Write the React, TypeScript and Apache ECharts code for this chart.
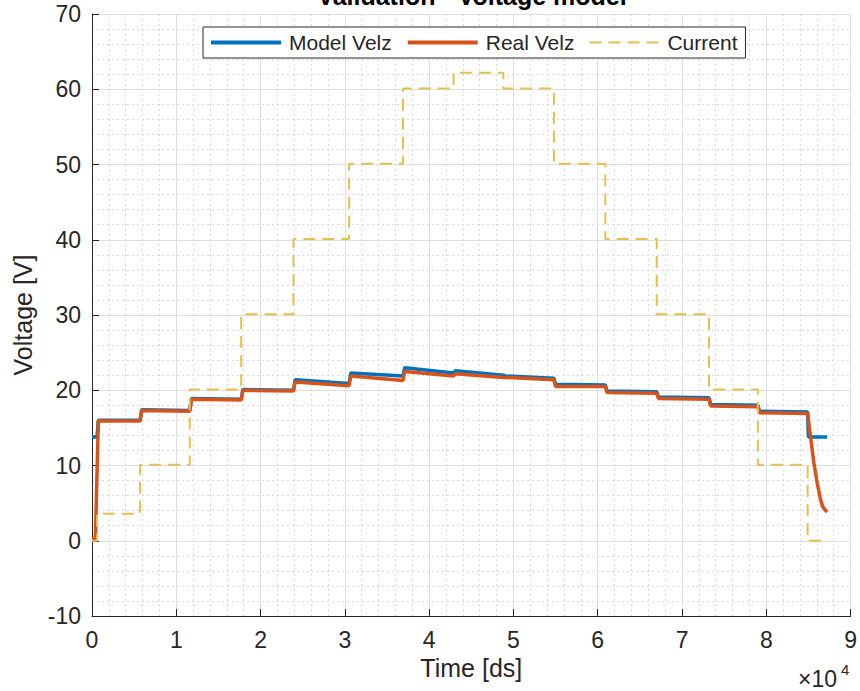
import React, { useEffect, useRef } from "react";
import * as echarts from "echarts";

// ---- Data (time in ds, values in V / A) ----
const modelTime = [0, 600, 750, 5700, 5900, 11600, 11800, 17700, 17900, 23900, 24100, 30500, 30700, 36900, 37100, 42900, 43100, 48800, 49000, 54800, 55000, 60900, 61100, 67000, 67200, 73200, 73400, 79000, 79200, 84900, 85000, 87200];
const modelVolt = [13.8, 13.8, 16.0, 16.0, 17.4, 17.3, 18.9, 18.8, 20.1, 20.0, 21.4, 20.9, 22.3, 21.9, 23.0, 22.3, 22.6, 22.0, 21.9, 21.6, 20.8, 20.7, 19.9, 19.8, 19.1, 19.0, 18.1, 18.0, 17.2, 17.1, 13.8, 13.8];

const realTime = [0, 400, 750, 5700, 5900, 11600, 11800, 17700, 17900, 23900, 24100, 30500, 30700, 36900, 37100, 42900, 43100, 48800, 49000, 54800, 55000, 60900, 61100, 67000, 67200, 73200, 73400, 79000, 79200, 84900, 85250, 85650, 86050, 86450, 86700, 87200];
const realVolt = [0.3, 0.3, 15.9, 15.9, 17.3, 17.2, 18.8, 18.7, 20.0, 19.9, 21.1, 20.6, 21.9, 21.3, 22.5, 21.9, 22.2, 21.7, 21.7, 21.4, 20.5, 20.5, 19.7, 19.6, 18.9, 18.8, 17.9, 17.8, 17.0, 16.9, 13.8, 10.3, 7.6, 5.4, 4.5, 3.8];

const currentTime = [0, 600, 5700, 11600, 17700, 23900, 30500, 36900, 42900, 48800, 54800, 60900, 67000, 73200, 79000, 84900, 87200];
const currentValue = [0, 3.6, 10.1, 20.1, 30.1, 40.1, 50.1, 60.1, 62.2, 60.1, 50.1, 40.1, 30.1, 20.1, 10.1, 0, 0];

const xTickLabels = ["0", "1", "2", "3", "4", "5", "6", "7", "8", "9"];

const FONT = '"Liberation Sans", Arial, Helvetica, sans-serif';
const TXT = "#262626";
const BLUE = "#0072BD";
const ORANGE = "#D95319";
const YELLOW = "#E8BF4F";

function zip(xs: number[], ys: number[]) {
  return xs.map((x, i) => [x, ys[i]]);
}

export default function App() {
  const ref = useRef<HTMLDivElement>(null);
  useEffect(() => {
    if (!ref.current) return;
    const chart = echarts.init(ref.current, null, { renderer: "svg" });
    const axisCommon = {
      axisLine: { show: true, onZero: false, lineStyle: { color: TXT, width: 1 } },
      axisTick: { show: true, inside: true, length: 7, lineStyle: { color: TXT, width: 1 } },
      splitLine: { show: true, lineStyle: { color: "#dedede", width: 1 } },
      minorTick: { show: false, splitNumber: 5 },
      minorSplitLine: { show: true, lineStyle: { color: "#dadada", width: 1, type: [2, 3] } },
      nameTextStyle: { fontFamily: FONT, fontSize: 25, color: TXT },
    };
    chart.setOption({
      animation: false,
      backgroundColor: "#ffffff",
      grid: { left: 92, right: 7, top: 14, bottom: 75, containLabel: false },
      xAxis: {
        type: "value",
        min: 0,
        max: 90000,
        interval: 10000,
        name: "Time [ds]",
        nameLocation: "middle",
        nameGap: 28,
        ...axisCommon,
        axisLabel: {
          fontFamily: FONT,
          fontSize: 23,
          color: TXT,
          margin: 12,
          formatter: (v: number) => xTickLabels[Math.round(v / 10000)] ?? "",
        },
      },
      yAxis: {
        type: "value",
        min: -10,
        max: 70,
        interval: 10,
        name: "Voltage [V]",
        nameLocation: "middle",
        nameGap: 57,
        ...axisCommon,
        axisLabel: { fontFamily: FONT, fontSize: 23, color: TXT, margin: 11 },
      },
      legend: {
        left: 203,
        top: 27,
        orient: "horizontal",
        backgroundColor: "#ffffff",
        borderColor: TXT,
        borderWidth: 1,
        padding: [5, 8, 5, 6],
        itemGap: 14,
        itemWidth: 70,
        itemHeight: 14,
        itemStyle: { color: "transparent", borderWidth: 0, opacity: 0 },
        textStyle: { fontFamily: FONT, fontSize: 21, color: TXT, padding: [0, 0, 0, 3] },
        data: [
          { name: "Model Velz", lineStyle: { width: 4, color: BLUE } },
          { name: "Real Velz", lineStyle: { width: 4, color: ORANGE } },
          { name: "Current", lineStyle: { width: 2, color: YELLOW, type: [12, 7] } },
        ],
      },
      graphic: [
        {
          type: "text",
          x: 472,
          y: 8,
          style: {
            text: "Validation - Voltage model",
            font: `bold 25px ${FONT}`,
            fill: "#000",
            textAlign: "center",
            textVerticalAlign: "bottom",
          },
        },
        {
          type: "text",
          x: 798,
          y: 679,
          style: { text: "×10", font: `23px ${FONT}`, fill: TXT, textAlign: "left", textVerticalAlign: "middle" },
        },
        {
          type: "text",
          x: 841,
          y: 669,
          style: { text: "4", font: `15px ${FONT}`, fill: TXT, textAlign: "left", textVerticalAlign: "middle" },
        },
      ],
      series: [
        {
          name: "Model Velz",
          type: "line",
          data: zip(modelTime, modelVolt),
          symbol: "none",
          showSymbol: false,
          lineStyle: { color: BLUE, width: 3.5 },
          itemStyle: { color: BLUE },
          z: 2,
        },
        {
          name: "Real Velz",
          type: "line",
          data: zip(realTime, realVolt),
          symbol: "none",
          showSymbol: false,
          lineStyle: { color: ORANGE, width: 3.5 },
          itemStyle: { color: ORANGE },
          z: 3,
        },
        {
          name: "Current",
          type: "line",
          step: "end",
          data: zip(currentTime, currentValue),
          symbol: "none",
          showSymbol: false,
          lineStyle: { color: YELLOW, width: 2, type: [12, 7] },
          itemStyle: { color: YELLOW },
          z: 4,
        },
      ],
    });
    return () => chart.dispose();
  }, []);
  return (
    <div
      ref={ref}
      style={{ position: "fixed", left: 0, top: 0, width: 860, height: 691, background: "#fff" }}
    />
  );
}
